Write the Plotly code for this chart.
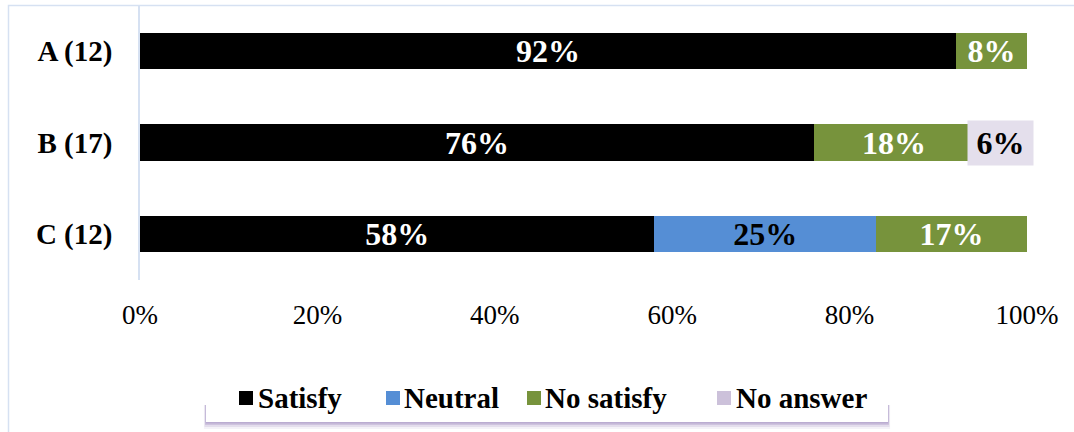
import plotly.graph_objects as go

categories = ["A (12)", "B (17)", "C (12)"]
series_names = ["Satisfy", "Neutral", "No satisfy", "No answer"]
satisfy = [0.92, 0.76, 0.58]
neutral = [0.0, 0.0, 0.25]
no_satisfy = [0.08, 0.18, 0.17]
no_answer = [0.0, 0.06, 0.0]
x_ticks = [0, 0.2, 0.4, 0.6, 0.8, 1.0]
x_tick_labels = ["0%", "20%", "40%", "60%", "80%", "100%"]

colors = ["#000000", "#558ED5", "#77933C", "#CCC1DA"]
text_colors = ["white", "black", "white", "black"]
values = [satisfy, neutral, no_satisfy, no_answer]

FONT = "Liberation Serif"

W, H = 1074, 432
ML, MR, MT, MB = 140, 47, 5, 152
PW, PH = W - ML - MR, H - MT - MB

def px2x(px):
    return (px - ML) / PW

def px2y(py):
    return (H - MB - py) / PH

fig = go.Figure()
for i, (name, vals) in enumerate(zip(series_names, values)):
    texts = []
    for v in vals:
        if v > 0 and name != "No answer":
            texts.append(f"<b>{round(v*100)}%</b>")
        else:
            texts.append("")
    fig.add_trace(go.Bar(
        y=categories, x=vals, name=name, orientation="h",
        marker=dict(color=colors[i], line=dict(width=0)),
        text=texts, textposition="inside", insidetextanchor="middle",
        constraintext="none",
        textfont=dict(family=FONT, size=32, color=text_colors[i]),
        textangle=0, hoverinfo="skip", showlegend=False,
    ))

# No answer label with its own filled box
for cat, v, base_s, base_n, base_ns in zip(categories, no_answer, satisfy, neutral, no_satisfy):
    if v > 0:
        fig.add_annotation(
            x=base_s + base_n + base_ns + v / 2, y=cat, xref="x", yref="y",
            text=f"<b>{round(v*100)}%</b>", showarrow=False,
            font=dict(family=FONT, size=32, color="black"),
            bgcolor="#E4DFEC", borderpad=4, width=57, height=36,
        )

shapes = []
# outer chart border
shapes.append(dict(type="rect", xref="paper", yref="paper",
                   x0=px2x(8.5), x1=px2x(1090), y0=px2y(5.5), y1=px2y(450),
                   line=dict(color="#D6E1F2", width=1.5), fillcolor="rgba(0,0,0,0)", layer="below"))
# legend shadow (soft, mostly below)
for off, alpha in [(7, 0.10), (5, 0.18), (3, 0.28), (1.5, 0.35)]:
    shapes.append(dict(type="rect", xref="paper", yref="paper",
                       x0=px2x(206 - off * 0.3), x1=px2x(888 + off * 0.3),
                       y0=px2y(405), y1=px2y(422 + off),
                       line=dict(width=0), fillcolor=f"rgba(150,130,185,{alpha})", layer="above"))
# legend white box
shapes.append(dict(type="rect", xref="paper", yref="paper",
                   x0=px2x(206), x1=px2x(888), y0=px2y(375), y1=px2y(422),
                   line=dict(width=0), fillcolor="white", layer="above"))

# legend entries (custom, drawn as swatches + text)
legend_square_x = [239, 386, 527, 717]
legend_text_x = [256, 402, 543, 734]
legend_mid_y = 398
for name, col, sx, tx in zip(series_names, colors, legend_square_x, legend_text_x):
    shapes.append(dict(type="rect", xref="paper", yref="paper",
                       x0=px2x(sx), x1=px2x(sx + 14), y0=px2y(legend_mid_y - 7), y1=px2y(legend_mid_y + 7),
                       line=dict(width=0), fillcolor=col, layer="above"))
    fig.add_annotation(x=px2x(tx), y=px2y(legend_mid_y), xref="paper", yref="paper",
                       xanchor="left", yanchor="middle", showarrow=False,
                       text=f"<b>{name}</b>",
                       font=dict(family=FONT, size=29, color="black"))

fig.update_layout(
    width=W, height=H, autosize=False,
    margin=dict(l=ML, r=MR, t=MT, b=MB),
    barmode="stack", bargap=0.607,
    plot_bgcolor="white", paper_bgcolor="white",
    font=dict(family=FONT, color="black"),
    showlegend=False,
    shapes=shapes,
    xaxis=dict(range=[0, 1], tickvals=x_ticks, ticktext=x_tick_labels,
               showgrid=False, zeroline=False, showline=False, ticks="",
               tickfont=dict(family=FONT, size=27, color="black"),
               ticklabelstandoff=16, fixedrange=True),
    yaxis=dict(categoryorder="array", categoryarray=categories, autorange="reversed",
               showgrid=False, zeroline=False, showline=True, linecolor="#D6E1F2", linewidth=1.5,
               ticks="", tickfont=dict(family=FONT, size=29, color="black", weight="bold"),
               ticklabelstandoff=20, fixedrange=True),
)

fig.write_html("out.html")
